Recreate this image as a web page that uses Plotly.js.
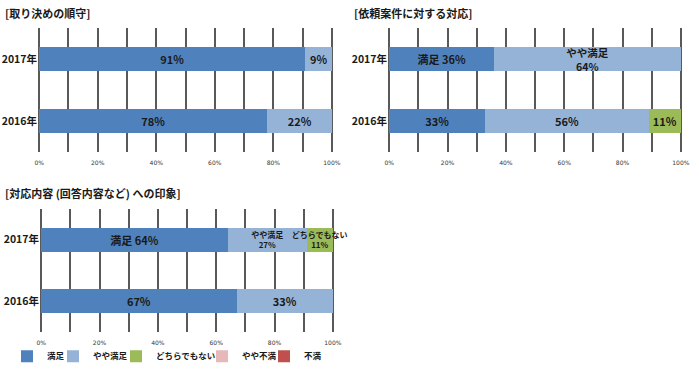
<!DOCTYPE html>
<html><head><meta charset="utf-8">
<script src="https://cdn.plot.ly/plotly-3.0.1.min.js"></script>
<style>html,body{margin:0;padding:0;background:#fff}#c{width:699px;height:371px}</style>
</head><body><div id="c"></div>
<script>
const years = ["2016年", "2017年"];
const seriesNames = ["満足", "やや満足", "どちらでもない", "やや不満", "不満"];
const colors = ["#4F81BD", "#95B3D7", "#9BBB59", "#E6B9B8", "#C0504D"];
const tickVals = [0, 10, 20, 30, 40, 50, 60, 70, 80, 90, 100];
const tickText = ["0%", "", "20%", "", "40%", "", "60%", "", "80%", "", "100%"];

// Chart 1: 取り決めの順守
const c1Manzoku = [78, 91];
const c1Yaya = [22, 9];
const c1ManzokuText = ["78%", "91%"];
const c1YayaText = ["22%", "9%"];

// Chart 2: 依頼案件に対する対応
const c2Manzoku = [33, 36];
const c2Yaya = [56, 64];
const c2Dochira = [11, 0];
const c2ManzokuText = ["33%", "満足 36%"];
const c2YayaText = ["56%", "やや満足<br>64%"];
const c2DochiraText = ["11%", ""];

// Chart 3: 対応内容（回答内容など）への印象
const c3Manzoku = [67, 64];
const c3Yaya = [33, 27];
const c3Dochira = [0, 9];
const c3YayaFuman = [0, 0];
const c3Fuman = [0, 0];
const c3ManzokuText = ["67%", "満足 64%"];
const c3YayaText = ["33%", "やや満足<br>27%"];
const c3DochiraText = ["", "どちらでもない<br>11%"];

const titles = ["[取り決めの順守]", "[依頼案件に対する対応]", "[対応内容 (回答内容など) への印象]"];

const FONT = "DejaVu Sans, Noto Sans CJK JP, sans-serif";
const JFONT = "Noto Sans CJK JP, sans-serif";
const legendIds = ["legend", "legend2", "legend3", "legend4", "legend5"];

function bar(x, text, sizes, si, xa, ya, showlegend) {
  return {
    type: "bar", orientation: "h", y: years, x: x,
    name: seriesNames[si], marker: {color: colors[si], line: {width: 0}},
    text: text, textposition: "inside", insidetextanchor: "middle",
    constraintext: "none", cliponaxis: false,
    textfont: {family: JFONT, size: sizes, color: "#1a1a1a", weight: "bold"},
    xaxis: xa, yaxis: ya, showlegend: showlegend, legend: legendIds[si],
    hoverinfo: "skip"
  };
}

const data = [
  bar(c1Manzoku, c1ManzokuText, 11, 0, "x", "y", false),
  bar(c1Yaya, c1YayaText, 11, 1, "x", "y", false),
  bar(c2Manzoku, c2ManzokuText, 11, 0, "x2", "y2", false),
  bar(c2Yaya, c2YayaText, [11, 10.5], 1, "x2", "y2", false),
  bar(c2Dochira, c2DochiraText, 11, 2, "x2", "y2", false),
  bar(c3Manzoku, c3ManzokuText, 11, 0, "x3", "y3", true),
  bar(c3Yaya, c3YayaText, [11, 8], 1, "x3", "y3", true),
  bar(c3Dochira, c3DochiraText, [8, 8], 2, "x3", "y3", true),
  bar(c3YayaFuman, ["", ""], 8, 3, "x3", "y3", true),
  bar(c3Fuman, ["", ""], 8, 4, "x3", "y3", true)
];

const W = 699, H = 371;
function xax(l, r) {
  return {
    domain: [l / W, r / W], range: [-0.4, 100.4], tickvals: tickVals, ticktext: tickText,
    showgrid: true, gridcolor: "#595959", gridwidth: 2, zeroline: false,
    showline: false, ticks: "", ticklen: 0, ticklabelstandoff: 6,
    tickfont: {family: FONT, size: 6, color: "#333"}, fixedrange: true
  };
}
function yax(t, b, anchor) {
  return {
    domain: [1 - b / H, 1 - t / H], range: [-0.5, 1.5], type: "category",
    showgrid: false, zeroline: false, showline: false, ticks: "",
    tickfont: {family: JFONT, size: 10.5, color: "#1a1a1a", weight: "bold"},
    anchor: anchor, fixedrange: true
  };
}

// left edge (px) of each legend entry
const legendX = [7, 53, 116, 202, 264];
function leg(px) {
  return {
    orientation: "h", x: px / W, xanchor: "left", y: 1 - 363 / H, yanchor: "middle",
    font: {family: JFONT, size: 8.5, color: "#1a1a1a", weight: "bold"},
    itemwidth: 30, bgcolor: "rgba(0,0,0,0)", borderwidth: 0
  };
}

const layout = {
  width: W, height: H, margin: {l: 0, r: 0, t: 0, b: 0},
  paper_bgcolor: "#fff", plot_bgcolor: "rgba(0,0,0,0)",
  barmode: "stack", bargap: 0.61,
  xaxis: Object.assign(xax(38, 333), {anchor: "y"}),
  yaxis: yax(29, 155, "x"),
  xaxis2: Object.assign(xax(388, 682), {anchor: "y2"}),
  yaxis2: yax(29, 155, "x2"),
  xaxis3: Object.assign(xax(40, 334), {anchor: "y3"}),
  yaxis3: yax(213, 338, "x3"),
  showlegend: true,
  legend: leg(legendX[0]),
  legend2: leg(legendX[1]),
  legend3: leg(legendX[2]),
  legend4: leg(legendX[3]),
  legend5: leg(legendX[4]),
  annotations: [
    {text: titles[0], x: 3 / W, y: 1 - 13 / H, xanchor: "left", yanchor: "middle"},
    {text: titles[1], x: 352 / W, y: 1 - 13 / H, xanchor: "left", yanchor: "middle"},
    {text: titles[2], x: 3 / W, y: 1 - 197 / H, xanchor: "left", yanchor: "middle"}
  ].map(a => Object.assign(a, {xref: "paper", yref: "paper", showarrow: false,
    font: {family: JFONT, size: 11, color: "#1a1a1a", weight: "bold"}}))
};

Plotly.newPlot("c", data, layout, {staticPlot: true, displayModeBar: false});
</script>
</body></html>
